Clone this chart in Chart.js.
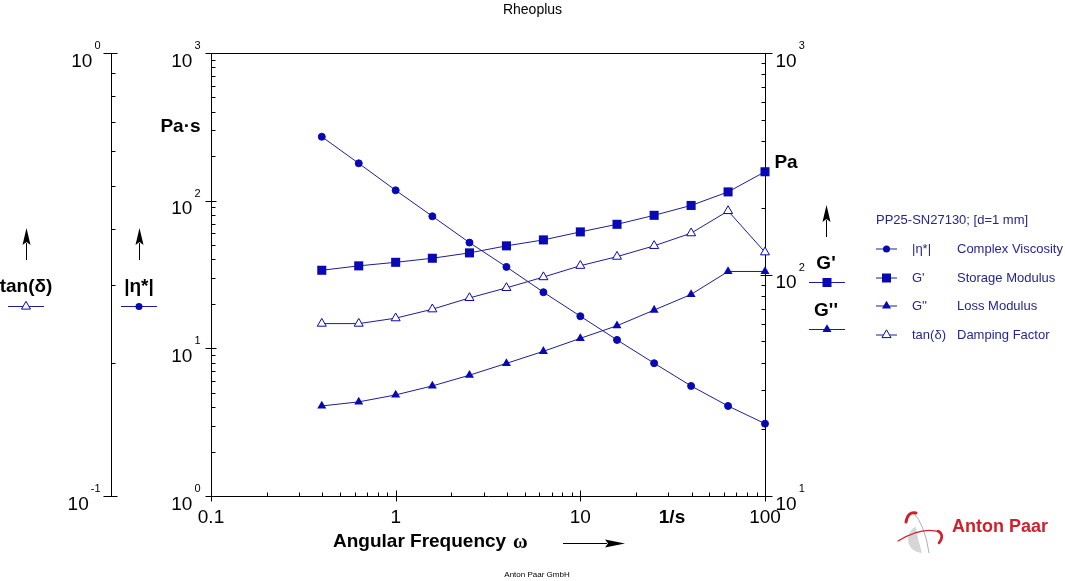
<!DOCTYPE html>
<html><head><meta charset="utf-8">
<script src="https://cdn.jsdelivr.net/npm/chart.js@4.4.1/dist/chart.umd.min.js"></script>
<style>html,body{margin:0;padding:0;background:#fff;}canvas{display:block;}</style>
</head><body>
<canvas id="c" width="1065" height="581"></canvas>
<script>
// ---- data ----
const omega    = [0.398, 0.631, 1, 1.58, 2.51, 3.98, 6.31, 10, 15.8, 25.1, 39.8, 63.1, 100];
const etaStar  = [271, 179, 117.5, 78.4, 52.0, 35.6, 24.0, 16.5, 11.4, 7.93, 5.56, 4.07, 3.09];
const gPrime   = [104.5, 109.4, 113.5, 118.4, 125.2, 134.7, 143.3, 155.7, 168.5, 185, 205, 236, 291];
const gDouble  = [25.5, 26.6, 28.6, 31.4, 35.1, 39.7, 45.0, 51.5, 58.7, 69.1, 81.3, 103.2, 103.2];
const tanDelta = [0.245, 0.245, 0.252, 0.264, 0.280, 0.295, 0.312, 0.331, 0.347, 0.367, 0.392, 0.440, 0.355];

const xTickValues = [0.1, 1, 10, 100];
const xTickLabels = ['0.1', '1', '10', '100'];
const etaTickExps = [0, 1, 2, 3];
const gTickExps   = [1, 2, 3];
const tanTickExps = [-1, 0];

const legendTitle = 'PP25-SN27130; [d=1 mm]';
const legendSymbols = ['|\u03B7*|', "G'", "G''", 'tan(\u03B4)'];
const legendNames   = ['Complex Viscosity', 'Storage Modulus', 'Loss Modulus', 'Damping Factor'];
const legendStyles  = ['circle', 'rect', 'triangle', 'triangleOpen'];

// ---- styles ----
const FONT = '"Liberation Sans", Arial, Helvetica, sans-serif';
const LINE = '#1c1c96';
const MARK = '#0808b4';
const LEGTXT = '#25258f';
Chart.defaults.font.family = FONT;

function pts(ys){ return omega.map((w,i)=>({x:w, y:ys[i]})); }

function drawMarker(ctx, style, x, y){
  ctx.save();
  ctx.fillStyle = MARK; ctx.strokeStyle = MARK; ctx.lineWidth = 1;
  ctx.beginPath();
  if (style === 'circle') { ctx.arc(x, y, 3.5, 0, Math.PI*2); ctx.fill(); }
  else if (style === 'rect') { ctx.rect(x-4.5, y-4.5, 9, 9); ctx.fill(); }
  else {
    const r = 5.2;
    ctx.moveTo(x, y-r); ctx.lineTo(x+0.866*r, y+r/2); ctx.lineTo(x-0.866*r, y+r/2); ctx.closePath();
    if (style === 'triangle') ctx.fill(); else { ctx.fillStyle='#fff'; ctx.fill(); ctx.stroke(); }
  }
  ctx.restore();
}
function legendSample(ctx, style, x1, x2, y){
  ctx.save(); ctx.strokeStyle = LINE; ctx.lineWidth = 1;
  ctx.beginPath(); ctx.moveTo(x1, y+0.5); ctx.lineTo(x2, y+0.5); ctx.stroke(); ctx.restore();
  drawMarker(ctx, style, (x1+x2)/2, y+0.5);
}
function arrowUp(ctx, x, yTop, yBot, headLen, headW){
  ctx.beginPath(); ctx.moveTo(x+0.5, yTop+headLen-2); ctx.lineTo(x+0.5, yBot); ctx.stroke();
  ctx.beginPath(); ctx.moveTo(x+0.5, yTop); ctx.lineTo(x+0.5-headW/2, yTop+headLen);
  ctx.lineTo(x+0.5, yTop+headLen-3); ctx.lineTo(x+0.5+headW/2, yTop+headLen); ctx.closePath(); ctx.fill();
}
function arrowRight(ctx, x1, x2, y, headLen, headW){
  ctx.beginPath(); ctx.moveTo(x1, y+0.5); ctx.lineTo(x2-headLen+2, y+0.5); ctx.stroke();
  ctx.beginPath(); ctx.moveTo(x2, y+0.5); ctx.lineTo(x2-headLen, y+0.5-headW/2);
  ctx.lineTo(x2-headLen+3, y+0.5); ctx.lineTo(x2-headLen, y+0.5+headW/2); ctx.closePath(); ctx.fill();
}
function pow10(ctx, exp, x, tickY, align){
  ctx.font = '19px ' + FONT; const w10 = ctx.measureText('10').width;
  ctx.font = '11px ' + FONT; const sup = String(exp); const ws = ctx.measureText(sup).width;
  const x0 = align === 'right' ? x - (w10 + 2 + ws) : x;
  ctx.textAlign = 'left'; ctx.textBaseline = 'alphabetic';
  ctx.font = '19px ' + FONT; ctx.fillText('10', x0, tickY + 13.5);
  ctx.font = '11px ' + FONT; ctx.fillText(sup, x0 + w10 + 2, tickY - 4);
}
function decadeTicks(scale, minExp, maxExp){
  const out = [];
  for (let e = minExp; e <= maxExp; e++) {
    for (let m = 1; m <= 9; m++) {
      if (e === maxExp && m > 1) break;
      out.push({p: Math.round(scale.getPixelForValue(m * Math.pow(10, e))) + 0.5, major: m === 1});
    }
  }
  return out;
}

const decor = {
  id: 'decor',
  afterDraw(chart){
    const ctx = chart.ctx, s = chart.scales, ca = chart.chartArea;
    ctx.save();
    ctx.strokeStyle = '#000'; ctx.fillStyle = '#000'; ctx.lineWidth = 1;
    // top frame
    const yTop = Math.round(ca.top) + 0.5;
    ctx.beginPath(); ctx.moveTo(ca.left, yTop); ctx.lineTo(ca.right, yTop); ctx.stroke();

    const tanX = Math.round(s.yTan.right) + 0.5;
    const etaX = Math.round(s.yEta.right) + 0.5;
    const gX = Math.round(s.yG.left) + 0.5;
    const xY = Math.round(s.x.top) + 0.5;

    ctx.beginPath();
    for (const t of decadeTicks(s.yTan, -1, 0)) { if (t.major) { ctx.moveTo(tanX-8, t.p); ctx.lineTo(tanX+6, t.p); } else { ctx.moveTo(tanX, t.p); ctx.lineTo(tanX+4, t.p); } }
    for (const t of decadeTicks(s.yEta, 0, 3)) { if (t.major) { ctx.moveTo(etaX-6, t.p); ctx.lineTo(etaX+5, t.p); } else { ctx.moveTo(etaX, t.p); ctx.lineTo(etaX+4, t.p); } }
    for (const t of decadeTicks(s.yG, 1, 3)) { if (t.major) { ctx.moveTo(gX-5, t.p); ctx.lineTo(gX+7, t.p); } else { ctx.moveTo(gX-4, t.p); ctx.lineTo(gX, t.p); } }
    for (const t of decadeTicks(s.x, -1, 2)) { if (t.major) { ctx.moveTo(t.p, xY-6); ctx.lineTo(t.p, xY+5); } else { ctx.moveTo(t.p, xY-4); ctx.lineTo(t.p, xY); } }
    ctx.stroke();

    // tick labels
    for (const e of tanTickExps) pow10(ctx, e, tanX - 11, s.yTan.getPixelForValue(Math.pow(10, e)), 'right');
    for (const e of etaTickExps) pow10(ctx, e, etaX - 11, s.yEta.getPixelForValue(Math.pow(10, e)), 'right');
    for (const e of gTickExps) pow10(ctx, e, gX + 10, s.yG.getPixelForValue(Math.pow(10, e)), 'left');
    ctx.font = '19px ' + FONT; ctx.textAlign = 'center'; ctx.textBaseline = 'alphabetic';
    xTickValues.forEach((v, i) => ctx.fillText(xTickLabels[i], s.x.getPixelForValue(v), 523));
    ctx.font = 'bold 19px ' + FONT;
    ctx.fillText('1/s', 672, 523);

    // axis titles
    ctx.font = 'bold 19px ' + FONT; ctx.textBaseline = 'middle'; ctx.textAlign = 'center';
    ctx.fillText('Pa\u00B7s', 180.5, 127);
    ctx.fillText('Pa', 786, 163);
    ctx.fillText('tan(\u03B4)', 26, 287);
    ctx.fillText('|\u03B7*|', 139, 287);
    ctx.fillText("G'", 826, 264);
    ctx.fillText("G''", 826, 311);
    ctx.textAlign = 'left'; ctx.textBaseline = 'alphabetic';
    ctx.fillText('Angular Frequency', 333, 547);
    ctx.font = 'bold 20px "Liberation Serif", "DejaVu Serif", serif';
    ctx.fillText('\u03C9', 513, 548);
    // arrows
    arrowUp(ctx, 26, 228, 260, 17, 8);
    arrowUp(ctx, 139, 228, 260, 17, 8);
    arrowUp(ctx, 826, 205, 237, 17, 8);
    arrowRight(ctx, 563, 625, 543, 20, 8);
    // side legend samples
    legendSample(ctx, 'triangleOpen', 8, 44, 306);
    legendSample(ctx, 'circle', 121, 157, 306);
    legendSample(ctx, 'rect', 809, 845, 282);
    legendSample(ctx, 'triangle', 809, 845, 329);

    // legend block
    ctx.fillStyle = LEGTXT; ctx.font = '13px ' + FONT; ctx.textBaseline = 'middle'; ctx.textAlign = 'left';
    ctx.fillText(legendTitle, 876, 220);
    const rowY = [249, 278, 306, 335];
    legendSymbols.forEach((sym, i) => {
      legendSample(ctx, legendStyles[i], 876, 897, rowY[i] - 0.5);
      ctx.fillStyle = LEGTXT; ctx.font = '13px ' + FONT;
      ctx.fillText(sym, 912, rowY[i]);
      ctx.fillText(legendNames[i], 957, rowY[i]);
    });

    // footer
    ctx.fillStyle = '#000'; ctx.font = '8px ' + FONT; ctx.textAlign = 'center';
    ctx.fillText('Anton Paar GmbH', 537, 575);

    // logo
    ctx.fillStyle = '#d6d6d6';
    ctx.beginPath(); ctx.arc(922, 539, 14, 0.45*Math.PI, 1.35*Math.PI); ctx.quadraticCurveTo(918, 540, 922, 553); ctx.closePath(); ctx.fill();
    ctx.strokeStyle = '#9a9a9a'; ctx.lineWidth = 0.8;
    ctx.beginPath(); ctx.moveTo(913, 512); ctx.quadraticCurveTo(925, 525, 929, 553); ctx.stroke();
    ctx.strokeStyle = '#d21f2b'; ctx.lineCap = 'round';
    ctx.lineWidth = 3;
    ctx.beginPath(); ctx.moveTo(906, 522); ctx.quadraticCurveTo(908, 511, 916, 513); ctx.stroke();
    ctx.lineWidth = 1.2;
    ctx.beginPath(); ctx.moveTo(898, 541); ctx.quadraticCurveTo(922, 526, 940, 532); ctx.stroke();
    ctx.lineWidth = 2.6;
    ctx.beginPath(); ctx.moveTo(938, 531); ctx.quadraticCurveTo(945, 535, 939, 543); ctx.stroke();
    ctx.fillStyle = '#d21f2b'; ctx.font = 'bold 18px ' + FONT; ctx.textAlign = 'left'; ctx.textBaseline = 'middle';
    ctx.fillText('Anton Paar', 952, 527);
    ctx.restore();
  }
};

const axisBase = {
  type: 'logarithmic',
  ticks: {display: false},
  grid: {display: true, drawOnChartArea: false, drawTicks: false},
  border: {display: true, color: '#000', width: 1}
};

new Chart(document.getElementById('c'), {
  type: 'line',
  data: {
    datasets: [
      {label: '|\u03B7*| Complex Viscosity', data: pts(etaStar), yAxisID: 'yEta', borderColor: LINE, borderWidth: 1,
       pointStyle: 'circle', pointRadius: 3.5, pointBackgroundColor: MARK, pointBorderColor: MARK, pointBorderWidth: 1, clip: false},
      {label: "G' Storage Modulus", data: pts(gPrime), yAxisID: 'yG', borderColor: LINE, borderWidth: 1,
       pointStyle: 'rect', pointRadius: 6.4, pointBackgroundColor: MARK, pointBorderColor: MARK, pointBorderWidth: 0, clip: false},
      {label: "G'' Loss Modulus", data: pts(gDouble), yAxisID: 'yG', borderColor: LINE, borderWidth: 1,
       pointStyle: 'triangle', pointRadius: 5.2, pointBackgroundColor: MARK, pointBorderColor: MARK, pointBorderWidth: 0, clip: false},
      {label: 'tan(\u03B4) Damping Factor', data: pts(tanDelta), yAxisID: 'yTan', borderColor: LINE, borderWidth: 1,
       pointStyle: 'triangle', pointRadius: 5.2, pointBackgroundColor: '#fff', pointBorderColor: MARK, pointBorderWidth: 1, clip: false}
    ]
  },
  options: {
    responsive: false, animation: false, devicePixelRatio: 1,
    layout: {padding: 0},
    elements: {line: {tension: 0}},
    plugins: {
      legend: {display: false}, tooltip: {enabled: false},
      title: {display: true, text: 'Rheoplus', color: '#000', font: {family: FONT, size: 14, weight: 'normal', lineHeight: 1.2}, padding: {top: 2, bottom: 34.2}}
    },
    scales: {
      x: Object.assign({}, axisBase, {position: 'bottom', min: 0.1, max: 100, afterFit(sc){ sc.height = 85; }}),
      yTan: Object.assign({}, axisBase, {position: 'left', weight: 1, min: 0.1, max: 1, afterFit(sc){ sc.width = 111; }}),
      yEta: Object.assign({}, axisBase, {position: 'left', weight: 0, min: 1, max: 1000, afterFit(sc){ sc.width = 100; }}),
      yG: Object.assign({}, axisBase, {position: 'right', min: 10, max: 1000, afterFit(sc){ sc.width = 300; }})
    }
  },
  plugins: [decor]
});
</script>
</body></html>
